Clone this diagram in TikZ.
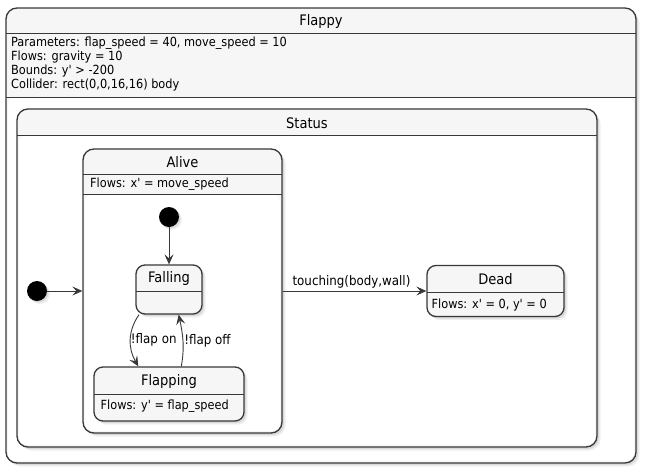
\documentclass[tikz,border=0pt]{standalone}
\usepackage{fontspec}
\setmainfont{DejaVu Sans Condensed}
\usepackage{tikz}
\usetikzlibrary{arrows.meta, shadows}
\definecolor{stateline}{HTML}{383838}
\definecolor{stateback}{HTML}{F6F6F6}
\newcommand{\sq}{\textquotesingle}

\begin{document}
\begin{tikzpicture}[x=1pt, y=-1pt, font=\fontsize{13.2}{15}\selectfont]
% Define styles
\tikzstyle{state} = [rectangle, rounded corners=11pt, draw=stateline, fill=stateback, line width=1.3pt, inner sep=0pt, drop shadow={shadow xshift=3.5pt, shadow yshift=-3.5pt, opacity=0.12}, drop shadow={shadow xshift=2pt, shadow yshift=-2pt, opacity=0.2}]
\tikzstyle{smallstate} = [state, rounded corners=9pt]
\tikzstyle{body} = [fill=white, rounded corners=8pt]
\tikzstyle{sep} = [draw=stateline, line width=1pt]
\tikzstyle{title} = [font=\fontsize{14.5}{16}\selectfont, inner sep=0pt]
\tikzstyle{desc} = [anchor=base west, inner sep=0pt, font=\fontsize{12.6}{14}\selectfont]
\tikzstyle{start} = [circle, fill=black, minimum size=20pt, inner sep=0pt, drop shadow={shadow xshift=3pt, shadow yshift=-3pt, opacity=0.12}, drop shadow={shadow xshift=1.5pt, shadow yshift=-1.5pt, opacity=0.2}]
\tikzstyle{arrow} = [draw=stateline, line width=0.9pt, -{Stealth[length=10pt, width=9pt, inset=4pt]}]
\useasboundingbox (0,0) rectangle (646,474);
% Flappy
\node (flappy) [state, minimum width=630pt, minimum height=455pt] at (321,235.5) {};
\fill [body] (8,97) rectangle (634,461);
\draw [sep] (6,33) -- (636,33);
\draw [sep] (6,97) -- (636,97);
\node (flappytitle) [title] at (321,21) {Flappy};
\node (desc1) [desc] at (11,46.5) {Parameters: flap\_speed = 40, move\_speed = 10};
\node (desc2) [desc] at (11,60.3) {Flows: gravity = 10};
\node (desc3) [desc] at (11,74.2) {Bounds: y\sq{} > -200};
\node (desc4) [desc] at (11,88) {Collider: rect(0,0,16,16) body};
% Status
\node (status) [state, minimum width=580pt, minimum height=338pt] at (307,278) {};
\fill [body] (19,135) rectangle (595,445);
\draw [sep] (17,135) -- (597,135);
\node (statustitle) [title] at (307,123) {Status};
% Alive
\node (alive) [state, minimum width=199pt, minimum height=284pt] at (182.5,291) {};
\fill [body] (85,194) rectangle (280,431);
\draw [sep] (83,174) -- (282,174);
\draw [sep] (83,194) -- (282,194);
\node (alivetitle) [title] at (182.5,162) {Alive};
\node (aliveflows) [desc] at (90,187.5) {Flows: x\sq{} = move\_speed};
% Falling and Flapping
\node (falling) [smallstate, minimum width=66pt, minimum height=49pt] at (169,289.5) {};
\draw [sep] (136,291) -- (202,291);
\node (fallingtitle) [title] at (169,278) {Falling};
\node (flapping) [smallstate, minimum width=150pt, minimum height=54pt] at (169,394) {};
\draw [sep] (94,394) -- (244,394);
\node (flappingtitle) [title] at (169,381) {Flapping};
\node (flappingflows) [desc] at (100.5,409) {Flows: y\sq{} = flap\_speed};
% Dead
\node (dead) [smallstate, minimum width=137pt, minimum height=51pt] at (495.5,291) {};
\draw [sep] (427,292) -- (564,292);
\node (deadtitle) [title] at (495.5,279) {Dead};
\node (deadflows) [desc] at (431.5,308.5) {Flows: x\sq{} = 0, y\sq{} = 0};
% Start points
\node (start0) [start] at (37,291) {};
\node (start1) [start] at (169,217) {};
% Draw arrows
\draw [arrow] (start0) -- (alive);
\draw [arrow] (start1) -- (falling);
\draw [arrow] (alive) -- node[above, xshift=-3pt, inner sep=2pt] {touching(body,wall)} (dead);
\draw [arrow] (falling.220) to[out=235, in=120] node[right, inner sep=0pt] {!flap on} (flapping.138);
\draw [arrow] (flapping.66) to[out=80, in=282] node[right, inner sep=1pt] {!flap off} (falling.291);
\end{tikzpicture}
\end{document}
